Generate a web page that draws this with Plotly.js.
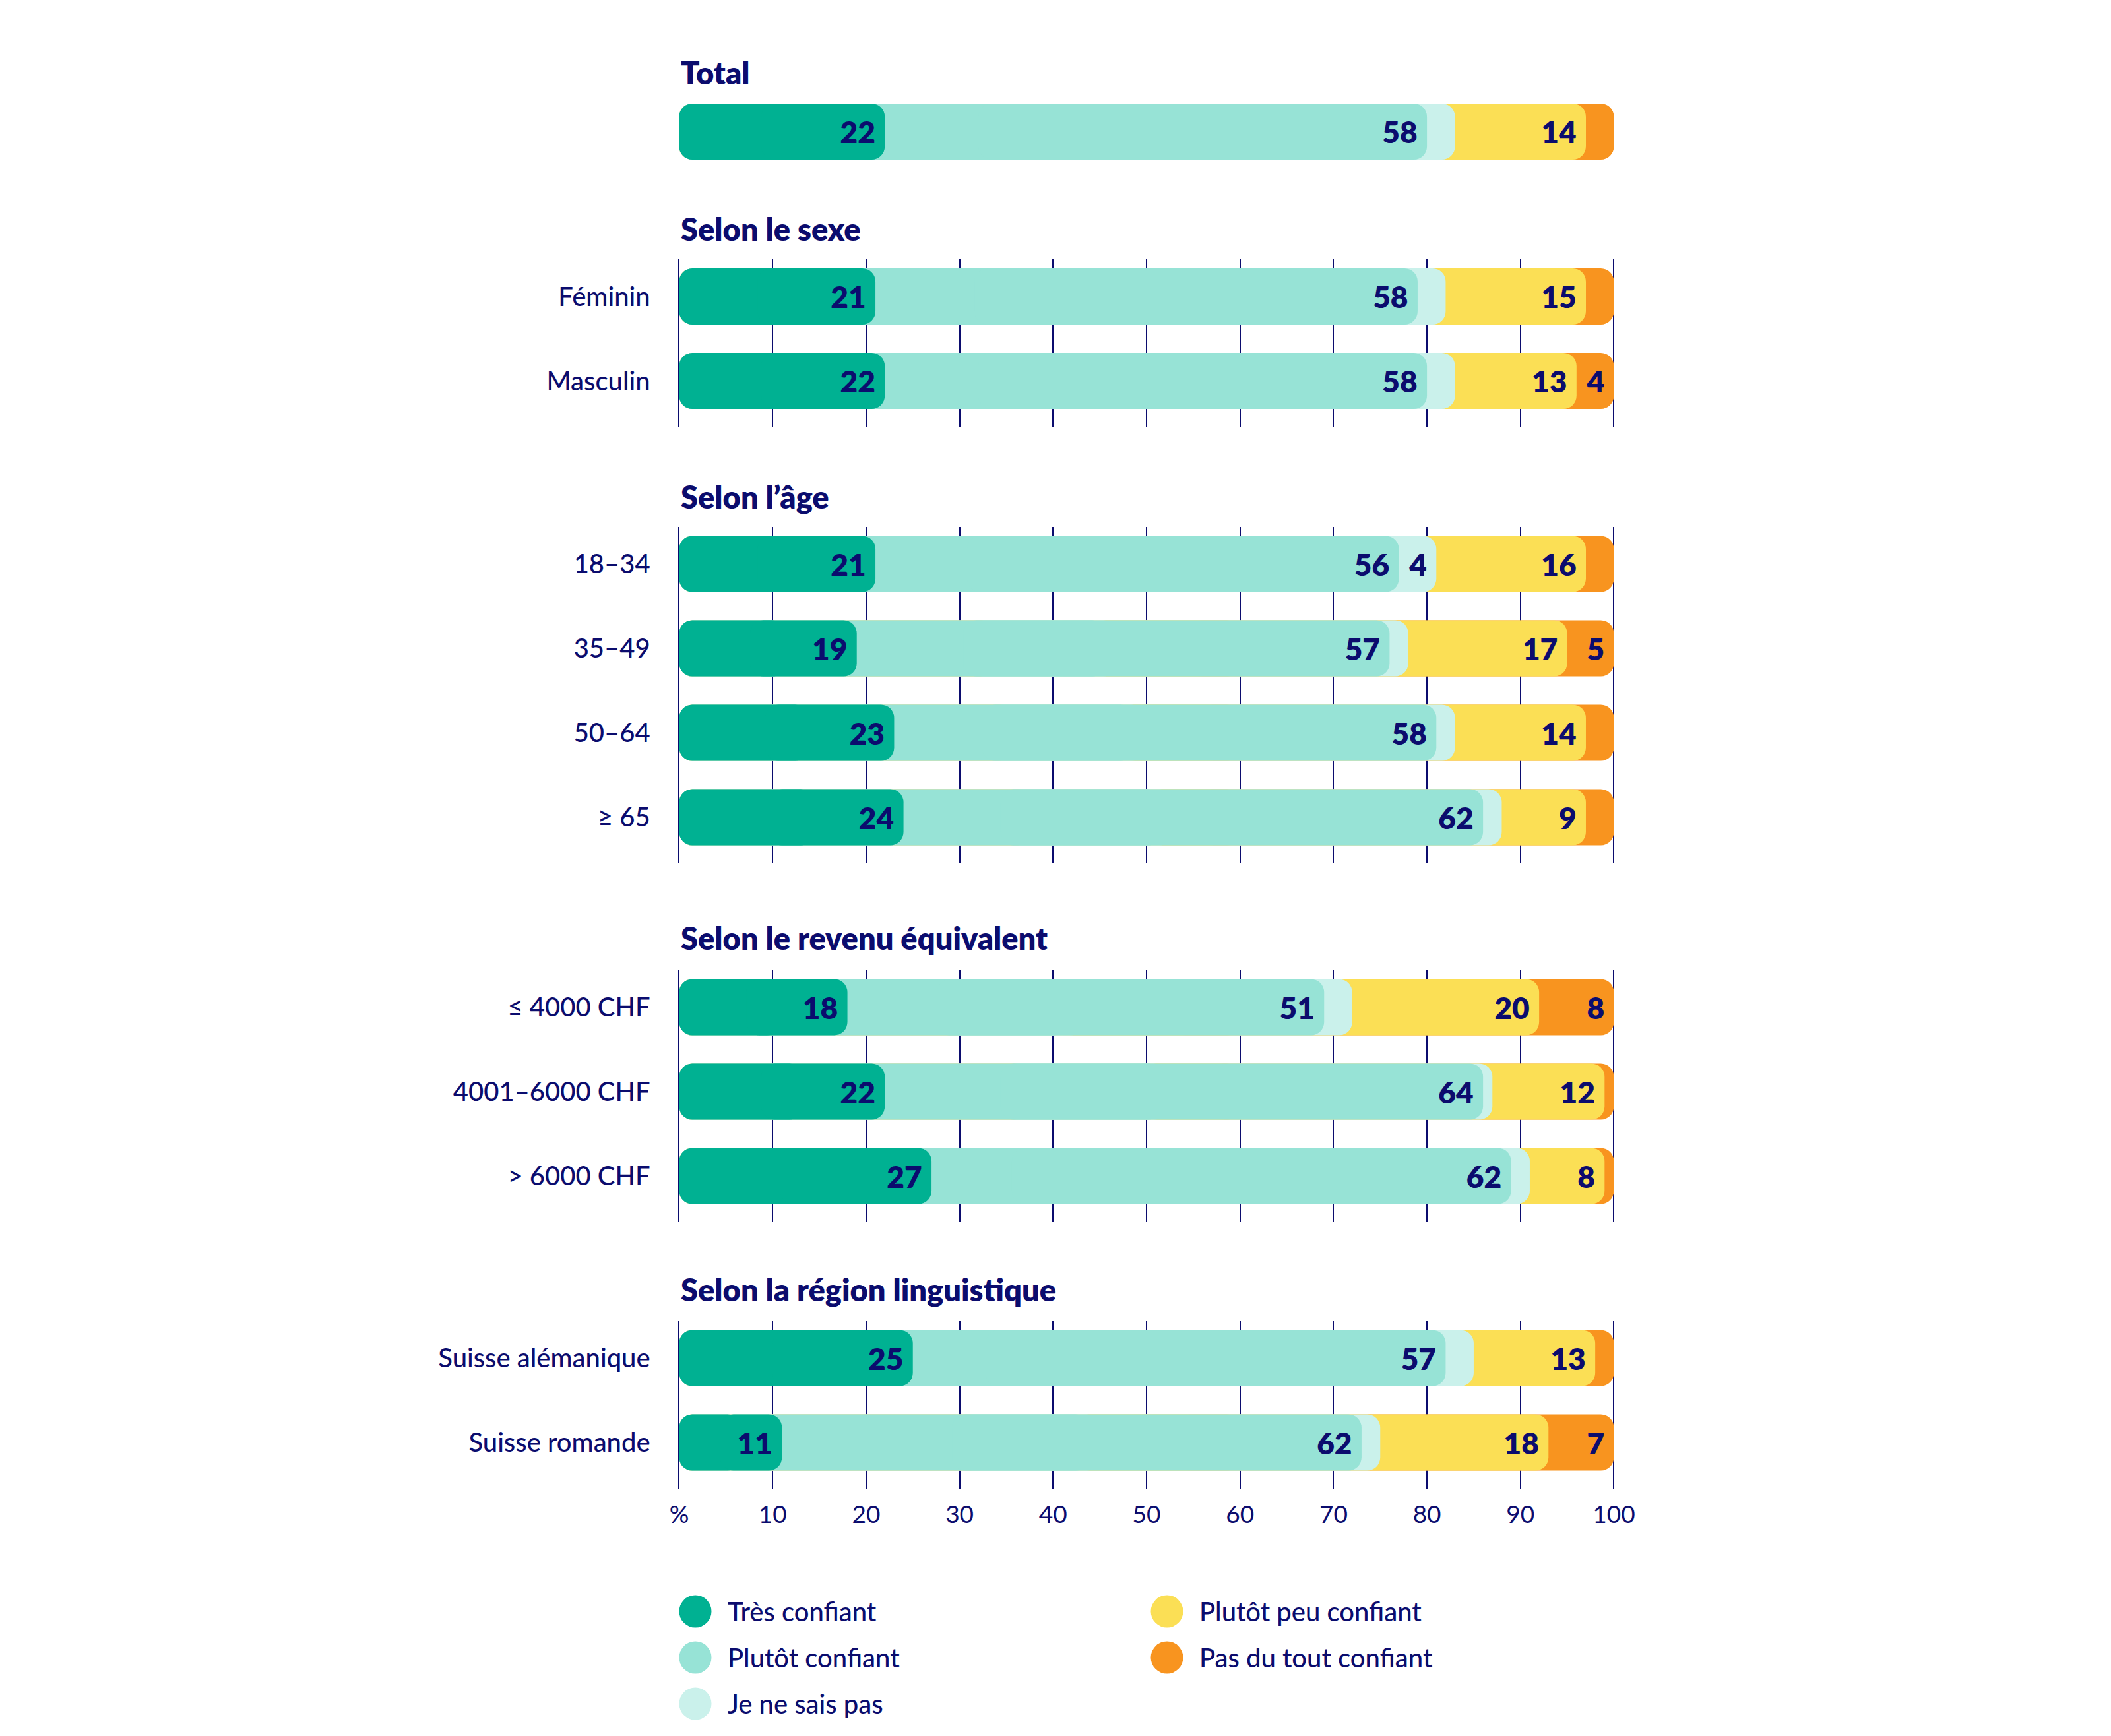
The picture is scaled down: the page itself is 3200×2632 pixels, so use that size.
<!DOCTYPE html>
<html>
<head>
<meta charset="utf-8">
<script src="https://cdn.plot.ly/plotly-3.0.1.min.js"></script>
<style>html,body{margin:0;padding:0;background:#fff;}#chart{width:3200px;height:2632px;}</style>
</head>
<body>
<div id="chart"></div>
<script>
// ---------- DATA ----------
const sectionTitles = ['Total', 'Selon le sexe', 'Selon l’âge', 'Selon le revenu équivalent', 'Selon la région linguistique'];
const categories = ['Total', 'Féminin', 'Masculin', '18–34', '35–49', '50–64', '≥ 65', '≤ 4000 CHF', '4001–6000 CHF', '> 6000 CHF', 'Suisse alémanique', 'Suisse romande'];
const sectionOf = [0, 1, 1, 2, 2, 2, 2, 3, 3, 3, 4, 4];
const seriesNames = ['Très confiant', 'Plutôt confiant', 'Je ne sais pas', 'Plutôt peu confiant', 'Pas du tout confiant'];
const tresConfiant      = [22, 21, 22, 21, 19, 23, 24, 18, 22, 27, 25, 11];
const plutotConfiant    = [58, 58, 58, 56, 57, 58, 62, 51, 64, 62, 57, 62];
const neSaisPas         = [3, 3, 3, 4, 2, 2, 2, 3, 1, 2, 3, 2];
const plutotPeuConfiant = [14, 15, 13, 16, 17, 14, 9, 20, 12, 8, 13, 18];
const pasDuToutConfiant = [3, 3, 4, 3, 5, 3, 3, 8, 1, 1, 2, 7];
const xTickVals = [0, 10, 20, 30, 40, 50, 60, 70, 80, 90, 100];
const xTickText = ['%', '10', '20', '30', '40', '50', '60', '70', '80', '90', '100'];

// ---------- STYLE ----------
const W = 3200, H = 2632;
const navy = '#0B0C6E';
const colors = ['#00B192', '#97E3D6', '#CAF1EB', '#FBDF55', '#F8941F'];
const FONT = 'Lato, "Noto Sans", sans-serif';
const rowPx = 128;           // pixel distance between rows
const barPx = 85;            // bar thickness
const xPad = 0.2;            // small range padding so the 0 and 100 gridlines are kept
const pxPerUnit = (2446.5 - 1029.5) / 100;
const x0px = 1029.5 - xPad * pxPerUnit, x1px = 2446.5 + xPad * pxPerUnit;
const firstRowPx = [199.5, 449.5, 855, 1527, 2059];
const titlePx = [110, 347, 753, 1422, 1955];

const series = [tresConfiant, plutotConfiant, neSaisPas, plutotPeuConfiant, pasDuToutConfiant];
const cum = series.map((_, k) => categories.map((_, i) => series.slice(0, k + 1).reduce((s, a) => s + a[i], 0)));

const traces = [];
const layout = {
  width: W, height: H, autosize: false,
  margin: {l: 0, r: 0, t: 0, b: 0, pad: 0},
  paper_bgcolor: '#fff', plot_bgcolor: 'rgba(0,0,0,0)',
  barmode: 'overlay', showlegend: false,
  font: {family: FONT, color: navy},
  annotations: [], shapes: []
};
const xDomain = [x0px / W, x1px / W];
const xRange = [-xPad, 100 + xPad];

sectionTitles.forEach((title, g) => {
  const idx = categories.map((c, i) => i).filter(i => sectionOf[i] === g);
  const n = idx.length;
  const ycats = idx.map(i => categories[i]);
  const yName = g === 0 ? 'y' : 'y' + (g + 1);
  const yKey = g === 0 ? 'yaxis' : 'yaxis' + (g + 1);
  const xName = g === 0 ? 'x2' : 'x';
  let topPx, botPx, range;
  if (g === 0) {
    topPx = firstRowPx[g] - rowPx / 2; botPx = firstRowPx[g] + rowPx / 2; range = [0.5, -0.5];
  } else {
    const above = barPx / 2 + 14, below = barPx / 2 + 27;
    topPx = firstRowPx[g] - above; botPx = firstRowPx[g] + (n - 1) * rowPx + below;
    range = [n - 1 + below / rowPx, -above / rowPx];
  }
  layout[yKey] = {
    domain: [1 - botPx / H, 1 - topPx / H], range: range, autorange: false,
    type: 'category', anchor: xName, showgrid: false, zeroline: false, showline: false,
    ticks: '', showticklabels: g !== 0, ticklabelstandoff: 40,
    tickfont: {family: FONT, size: 40, color: navy, weight: 500}, fixedrange: true
  };
  for (let k = series.length - 1; k >= 0; k--) {
    const common = {
      type: 'bar', orientation: 'h', y: ycats, xaxis: xName, yaxis: yName,
      width: barPx / rowPx, hoverinfo: 'skip', showlegend: false,
      marker: {color: colors[k], cornerradius: 20, line: {width: 0}}
    };
    // left part, rounded on its left end
    traces.push(Object.assign({}, common, {
      x: idx.map(i => -0.6 * cum[k][i]), base: idx.map(i => 0.6 * cum[k][i])
    }));
    // right part, rounded on its right end, carries the value label
    traces.push(Object.assign({}, common, {
      x: idx.map(i => 0.6 * cum[k][i]), base: idx.map(i => 0.4 * cum[k][i]),
      text: idx.map(i => series[k][i] >= 4 ? String(series[k][i]) + '\u00A0' : ''),
      textposition: 'inside', insidetextanchor: 'end', textangle: 0, constraintext: 'none',
      textfont: {family: FONT, size: 46, color: navy, weight: 800}
    }));
  }
  layout.annotations.push({
    xref: 'paper', yref: 'paper', x: 1029.5 / W, y: 1 - titlePx[g] / H,
    xanchor: 'left', yanchor: 'middle', showarrow: false, text: title,
    font: {family: FONT, size: 47, color: navy, weight: 800}
  });
});

layout.xaxis = {
  domain: xDomain, range: xRange, autorange: false, anchor: 'y5',
  tickmode: 'array', tickvals: xTickVals, ticktext: xTickText,
  showgrid: true, gridcolor: navy, gridwidth: 2, zeroline: false, showline: false,
  ticks: '', ticklabelstandoff: 14,
  tickfont: {family: FONT, size: 37, color: navy}, fixedrange: true
};
layout.xaxis2 = {
  domain: xDomain, range: xRange, autorange: false, anchor: 'y',
  showgrid: false, zeroline: false, showline: false, showticklabels: false, ticks: '', fixedrange: true
};

// legend (two columns) built from the series names and colours
const legendSlots = [[1054, 2443], [1054, 2513], [1054, 2583], [1769, 2443], [1769, 2513]];
seriesNames.forEach((name, k) => {
  const [cx, cy] = legendSlots[k];
  const r = 24.5;
  layout.shapes.push({
    type: 'circle', xref: 'paper', yref: 'paper',
    x0: (cx - r) / W, x1: (cx + r) / W, y0: 1 - (cy + r) / H, y1: 1 - (cy - r) / H,
    fillcolor: colors[k], line: {width: 0}
  });
  layout.annotations.push({
    xref: 'paper', yref: 'paper', x: (cx + 47) / W, y: 1 - cy / H,
    xanchor: 'left', yanchor: 'middle', showarrow: false, text: name,
    font: {family: FONT, size: 40, color: navy, weight: 500}
  });
});

Plotly.newPlot('chart', traces, layout, {staticPlot: true, displayModeBar: false});
</script>
</body>
</html>
